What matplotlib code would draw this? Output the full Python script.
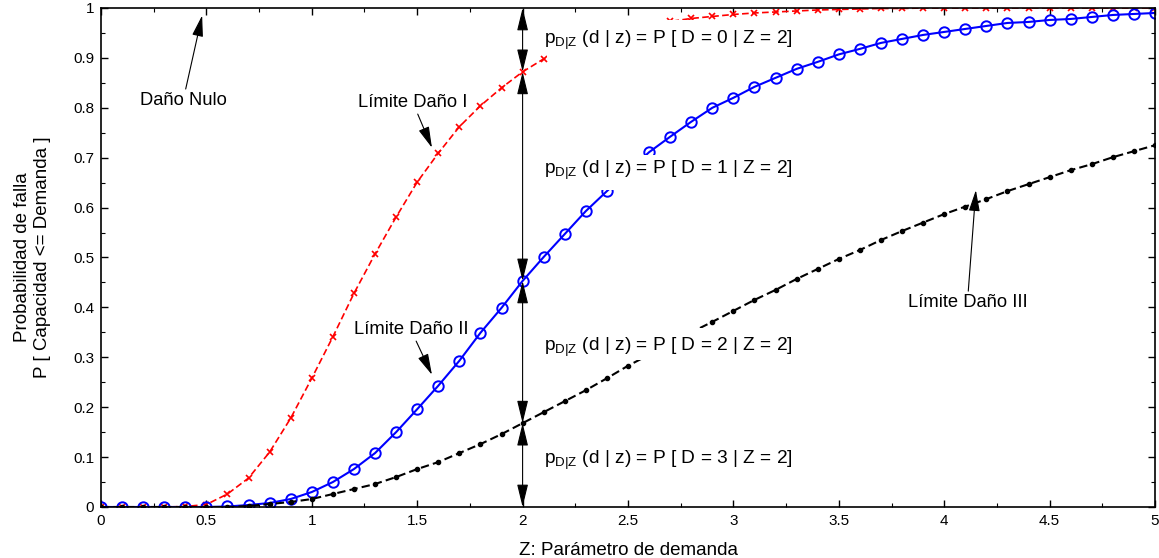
import numpy as np
import matplotlib
matplotlib.use("Agg")
import matplotlib.pyplot as plt
from matplotlib.patches import Rectangle
from matplotlib.ticker import MultipleLocator, FormatStrFormatter

fn = "Liberation Sans"
plt.rcParams.update({
    'font.family': fn,
    'mathtext.fontset': 'custom',
    'mathtext.rm': fn,
    'mathtext.it': fn,
    'mathtext.bf': f'{fn}:bold',
})

z = np.linspace(0, 5, 51)

dano_1 = [0, 0, 0, 0, 0.001, 0.005, 0.026, 0.058, 0.110, 0.178,
          0.258, 0.341, 0.428, 0.507, 0.581, 0.651, 0.709, 0.762, 0.804, 0.840,
          0.872, 0.898, 0.918, 0.935, 0.948, 0.959, 0.967, 0.973, 0.979, 0.983,
          0.987, 0.990, 0.992, 0.994, 0.996, 0.997, 0.998, 0.999, 0.999, 1.0,
          1.0, 1.0, 1.0, 1.0, 1.0, 1.0, 1.0, 1.0, 1.0, 1.0, 1.0]

dano_2 = [0, 0, 0, 0, 0, 0, 0.001, 0.004, 0.008, 0.016,
          0.030, 0.050, 0.076, 0.108, 0.150, 0.196, 0.243, 0.293, 0.349, 0.399,
          0.453, 0.501, 0.547, 0.593, 0.633, 0.672, 0.711, 0.742, 0.772, 0.800,
          0.820, 0.842, 0.860, 0.878, 0.892, 0.907, 0.918, 0.930, 0.938, 0.946,
          0.952, 0.958, 0.964, 0.970, 0.972, 0.976, 0.978, 0.982, 0.986, 0.988, 0.990]

dano_3 = [0, 0, 0, 0, 0, 0, 0, 0.002, 0.006, 0.010,
          0.016, 0.026, 0.036, 0.046, 0.060, 0.076, 0.090, 0.108, 0.126, 0.146,
          0.168, 0.190, 0.212, 0.234, 0.258, 0.283, 0.305, 0.328, 0.350, 0.371,
          0.393, 0.415, 0.435, 0.457, 0.477, 0.497, 0.515, 0.535, 0.553, 0.570,
          0.587, 0.602, 0.617, 0.633, 0.647, 0.661, 0.675, 0.687, 0.701, 0.713, 0.725]

# probabilities at Z = 2 marked with the double arrows
z_sel = 2
p_sel = [1.0, 0.872, 0.453, 0.168, 0.0]

fig = plt.figure(figsize=(11.59, 5.58), dpi=100)
ax = fig.add_axes([0.0871, 0.0914, 0.9095, 0.8943])

ax.plot(z, dano_1, color='red', ls='--', dashes=(4, 2), lw=1.2,
        marker='x', ms=4, mew=1.2, zorder=2)
ax.plot(z, dano_2, color='blue', ls='-', lw=1.5,
        marker='o', ms=7.5, mfc='none', mew=1.4, zorder=2)
ax.plot(z, dano_3, color='black', ls='--', dashes=(4, 2), lw=1.5,
        marker='.', ms=6, zorder=2)

ax.set_xlim(0, 5)
ax.set_ylim(0, 1)
ax.xaxis.set_major_locator(MultipleLocator(0.5))
ax.xaxis.set_minor_locator(MultipleLocator(0.25))
ax.yaxis.set_major_locator(MultipleLocator(0.1))
ax.yaxis.set_minor_locator(MultipleLocator(0.05))
ax.xaxis.set_major_formatter(FormatStrFormatter('%g'))
ax.yaxis.set_major_formatter(FormatStrFormatter('%g'))
ax.tick_params(which='both', direction='in', top=True, right=True, labelsize=11)
ax.tick_params(which='major', length=5, width=1, pad=5)
ax.tick_params(which='minor', length=3, width=0.8)
for s in ax.spines.values():
    s.set_linewidth(1.2)

ax.set_xlabel('Z: Parámetro de demanda', fontsize=13.5, labelpad=10)
ax.set_ylabel('Probabilidad de falla\nP [ Capacidad <= Demanda ]',
              fontsize=13.5, labelpad=16, linespacing=1.2)

# double arrows at Z = 2
for top, bot in zip(p_sel[:-1], p_sel[1:]):
    ax.annotate('', xy=(z_sel, top), xytext=(z_sel, bot),
                arrowprops=dict(arrowstyle='<|-|>,head_length=0.7,head_width=0.17',
                                color='black', lw=0.8,
                                mutation_scale=20, shrinkA=0, shrinkB=0),
                zorder=3)

# labels for the damage states; white backgrounds hide the curves behind them
text_y = [0.935, 0.675, 0.32, 0.094]
back = [(0.896, 0.976), (0.635, 0.705), (0.295, 0.359), (0.058, 0.134)]
for d, (y, (b0, b1)) in enumerate(zip(text_y, back)):
    ax.add_patch(Rectangle((2.115, b0), 1.18, b1 - b0, facecolor='white',
                           edgecolor='none', zorder=3))
    ax.text(2.1, y, r'p$_{\mathrm{D|Z}}$ (d | z) = P [ D = %d | Z = 2]' % d,
            fontsize=13.8, ha='left', va='center', zorder=4)

arrow = dict(arrowstyle='-|>,head_length=0.65,head_width=0.17', color='black',
             lw=0.8, mutation_scale=20, shrinkA=0, shrinkB=0)
ax.annotate('Daño Nulo', xy=(0.48, 0.985), xytext=(0.39, 0.815),
            ha='center', va='center', fontsize=13.2, arrowprops=arrow)
ax.annotate('Límite Daño I', xy=(1.57, 0.72), xytext=(1.48, 0.81),
            ha='center', va='center', fontsize=13.2, arrowprops=arrow)
ax.annotate('Límite Daño II', xy=(1.57, 0.265), xytext=(1.47, 0.355),
            ha='center', va='center', fontsize=13.2, arrowprops=arrow)
ax.annotate('Límite Daño III', xy=(4.15, 0.635), xytext=(4.11, 0.41),
            ha='center', va='center', fontsize=13.2, arrowprops=arrow)

fig.savefig('out.png', dpi=100)
